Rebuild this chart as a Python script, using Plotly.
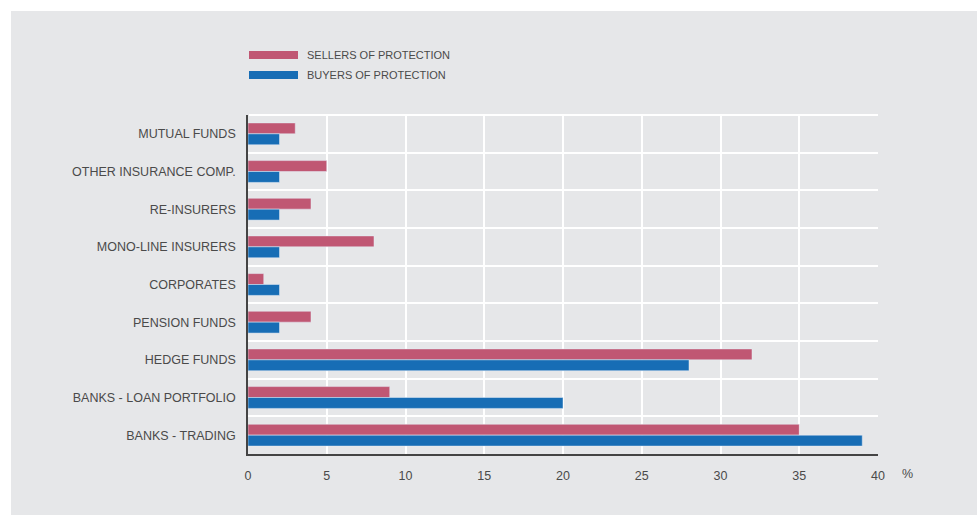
import plotly.graph_objects as go

categories = ["MUTUAL FUNDS", "OTHER INSURANCE COMP.", "RE-INSURERS", "MONO-LINE INSURERS",
              "CORPORATES", "PENSION FUNDS", "HEDGE FUNDS", "BANKS - LOAN PORTFOLIO", "BANKS - TRADING"]
sellers = [3, 5, 4, 8, 1, 4, 32, 9, 35]
buyers = [2, 2, 2, 2, 2, 2, 28, 20, 39]
x_ticks = [0, 5, 10, 15, 20, 25, 30, 35, 40]

PINK = "#c05773"
BLUE = "#176db5"
BG = "#e6e7e9"
TXT = "#4a4a4a"
FONT = "Liberation Sans, Arial, sans-serif"

fig = go.Figure()
fig.add_trace(go.Bar(y=categories, x=sellers, orientation="h", marker_color=PINK,
                     name="SELLERS OF PROTECTION", showlegend=False))
fig.add_trace(go.Bar(y=categories, x=buyers, orientation="h", marker_color=BLUE,
                     name="BUYERS OF PROTECTION", showlegend=False))

W, H = 977, 515
L, R, T, B = 248, 99, 115, 61
pw, ph = W - L - R, H - T - B

def px(x):
    return (x - L) / pw

def py(y):
    return (H - B - y) / ph

shapes = [
    dict(type="rect", xref="paper", yref="paper", x0=px(11), x1=px(W + 5), y0=py(H + 5), y1=py(11),
         fillcolor=BG, line_width=0, layer="below"),
    dict(type="line", xref="paper", yref="paper", x0=px(249), x1=1, y0=1, y1=1,
         line=dict(color="white", width=2), layer="above"),
    dict(type="rect", xref="paper", yref="paper", x0=px(249), x1=px(298), y0=py(59), y1=py(51),
         fillcolor=PINK, line_width=0),
    dict(type="rect", xref="paper", yref="paper", x0=px(249), x1=px(298), y0=py(79), y1=py(71),
         fillcolor=BLUE, line_width=0),
]
annotations = [
    dict(xref="paper", yref="paper", x=px(305), y=py(55), text="SELLERS OF PROTECTION", showarrow=False,
         xanchor="left", yanchor="middle", font=dict(size=11, color=TXT, family=FONT)),
    dict(xref="paper", yref="paper", x=px(305), y=py(75), text="BUYERS OF PROTECTION", showarrow=False,
         xanchor="left", yanchor="middle", font=dict(size=11, color=TXT, family=FONT)),
    dict(xref="paper", yref="paper", x=px(900), y=py(474), text="%", showarrow=False,
         xanchor="left", yanchor="middle", font=dict(size=12.5, color=TXT, family=FONT)),
]

fig.update_layout(
    width=W, height=H,
    margin=dict(l=L, r=R, t=T, b=B, pad=0),
    paper_bgcolor="white", plot_bgcolor=BG,
    barmode="group", bargap=0.42, bargroupgap=0,
    font=dict(family=FONT, size=12.5, color=TXT),
    shapes=shapes, annotations=annotations,
    showlegend=False,
)
fig.update_xaxes(range=[0, 40], tickvals=x_ticks, ticktext=[str(v) for v in x_ticks],
                 showgrid=True, gridcolor="white", gridwidth=2, zeroline=False,
                 showline=True, linecolor="#444444", linewidth=1.5, ticks="",
                 ticklabelstandoff=9, tickfont=dict(size=12.5, color=TXT), fixedrange=True)
fig.update_yaxes(type="category", autorange="reversed", tickson="boundaries",
                 showgrid=True, gridcolor="white", gridwidth=2, zeroline=False,
                 showline=True, linecolor="#444444", linewidth=1.5, ticks="",
                 ticklabelstandoff=8, tickfont=dict(size=12.5, color=TXT), fixedrange=True)

fig.write_html("out.html")
